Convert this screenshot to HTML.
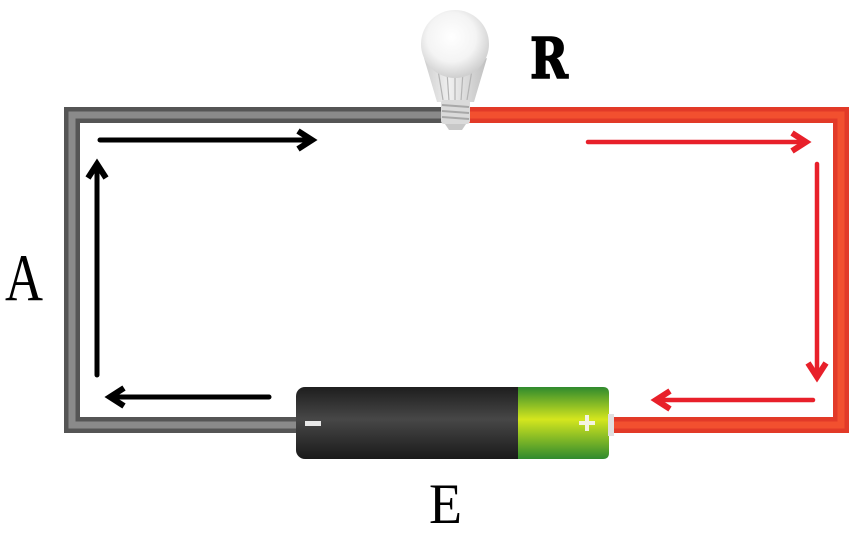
<!DOCTYPE html>
<html><head><meta charset="utf-8">
<style>
html,body{margin:0;padding:0;background:#fff;}
svg{display:block;}
</style></head>
<body>
<svg width="861" height="534" viewBox="0 0 861 534" xmlns="http://www.w3.org/2000/svg">
<defs>
<radialGradient id="globe" cx="0.45" cy="0.4" r="0.6">
<stop offset="0" stop-color="#ffffff"/>
<stop offset="0.6" stop-color="#f4f4f4"/>
<stop offset="1" stop-color="#cfcfcf"/>
</radialGradient>
<linearGradient id="neck" x1="0" y1="0" x2="1" y2="0">
<stop offset="0" stop-color="#cfcfcf"/>
<stop offset="0.4" stop-color="#f0f0f0"/>
<stop offset="1" stop-color="#c0c0c0"/>
</linearGradient>
<linearGradient id="blk" x1="0" y1="0" x2="0" y2="1">
<stop offset="0" stop-color="#1e1e1e"/>
<stop offset="0.45" stop-color="#474747"/>
<stop offset="1" stop-color="#1a1a1a"/>
</linearGradient>
<linearGradient id="grn" x1="0" y1="0" x2="0" y2="1">
<stop offset="0" stop-color="#2f8a2e"/>
<stop offset="0.45" stop-color="#d4e61e"/>
<stop offset="1" stop-color="#2f8a2e"/>
</linearGradient>
</defs>

<!-- gray wire -->
<path d="M446 115 H72 V425 H298" fill="none" stroke="#555" stroke-width="16"/>
<path d="M446 115 H72 V425 H298" fill="none" stroke="#8a8a8a" stroke-width="7"/>
<!-- red wire -->
<path d="M466 115 H841 V425 H608" fill="none" stroke="#e23a28" stroke-width="16"/>
<path d="M466 115 H841 V425 H608" fill="none" stroke="#f2502f" stroke-width="7"/>

<!-- bulb -->
<path d="M424 58 Q455 72 487 58 L474 102 L437 102 Z" fill="url(#neck)"/>
<g stroke="#b4b4b4" stroke-width="1.2">
<line x1="438" y1="70" x2="443" y2="100"/>
<line x1="447" y1="72" x2="449" y2="101"/>
<line x1="455" y1="72" x2="455" y2="101"/>
<line x1="463" y1="72" x2="461" y2="101"/>
<line x1="472" y1="70" x2="467" y2="100"/>
</g>
<circle cx="455" cy="44" r="34" fill="url(#globe)"/>
<rect x="441" y="100" width="29" height="24" rx="3" fill="#dadada"/>
<g stroke="#a8a8a8" stroke-width="2">
<line x1="442" y1="105" x2="469" y2="107"/>
<line x1="442" y1="111" x2="469" y2="113"/>
<line x1="442" y1="117" x2="469" y2="119"/>
</g>
<path d="M445 124 H466 L462 130 H449 Z" fill="#c8c8c8"/>

<!-- battery -->
<rect x="296" y="387" width="240" height="72" rx="9" fill="url(#blk)"/>
<path d="M518 387 H603 Q609 387 609 393 V453 Q609 459 603 459 H518 Z" fill="url(#grn)"/>
<rect x="608" y="414" width="6" height="22" fill="#e0e0e0"/>
<rect x="305" y="421" width="16" height="5" fill="#e8e8e8"/>
<rect x="579" y="421" width="16" height="4" fill="#f4f4e0"/>
<rect x="585" y="415" width="4" height="16" fill="#f4f4e0"/>

<!-- black arrows -->
<g fill="none" stroke="#000" stroke-width="5" stroke-linecap="round" stroke-linejoin="miter">
<line x1="100" y1="140" x2="311" y2="140"/>
<line x1="97" y1="375" x2="97" y2="166"/>
<line x1="269" y1="397" x2="112" y2="397"/>
</g>
<g fill="none" stroke="#000" stroke-width="6" stroke-linecap="butt" stroke-linejoin="miter">
<polyline points="298,131 312,140 298,149"/>
<polyline points="88,178 97,164 106,178"/>
<polyline points="124,388 110,397 124,406"/>
</g>
<!-- red arrows -->
<g fill="none" stroke="#e8202a" stroke-width="4.5" stroke-linecap="round" stroke-linejoin="miter">
<line x1="588" y1="142" x2="804" y2="142"/>
<line x1="817" y1="164" x2="817" y2="375"/>
<line x1="813" y1="400" x2="658" y2="400"/>
</g>
<g fill="none" stroke="#e8202a" stroke-width="6" stroke-linecap="butt" stroke-linejoin="miter">
<polyline points="792,133 806,142 792,151"/>
<polyline points="808,363 817,377 826,363"/>
<polyline points="670,391 656,400 670,409"/>
</g>

<!-- labels -->
<text x="530" y="78" font-family="'DejaVu Serif', serif" font-weight="bold" font-size="56" textLength="38" lengthAdjust="spacingAndGlyphs" fill="#000" stroke="#000" stroke-width="1.5">R</text>
<text x="5" y="300" font-family="'Liberation Serif', serif" font-size="67" textLength="38" lengthAdjust="spacingAndGlyphs" fill="#000">A</text>
<text x="429" y="523" font-family="'Liberation Serif', serif" font-size="57" textLength="33" lengthAdjust="spacingAndGlyphs" fill="#000">E</text>
</svg>
</body></html>
